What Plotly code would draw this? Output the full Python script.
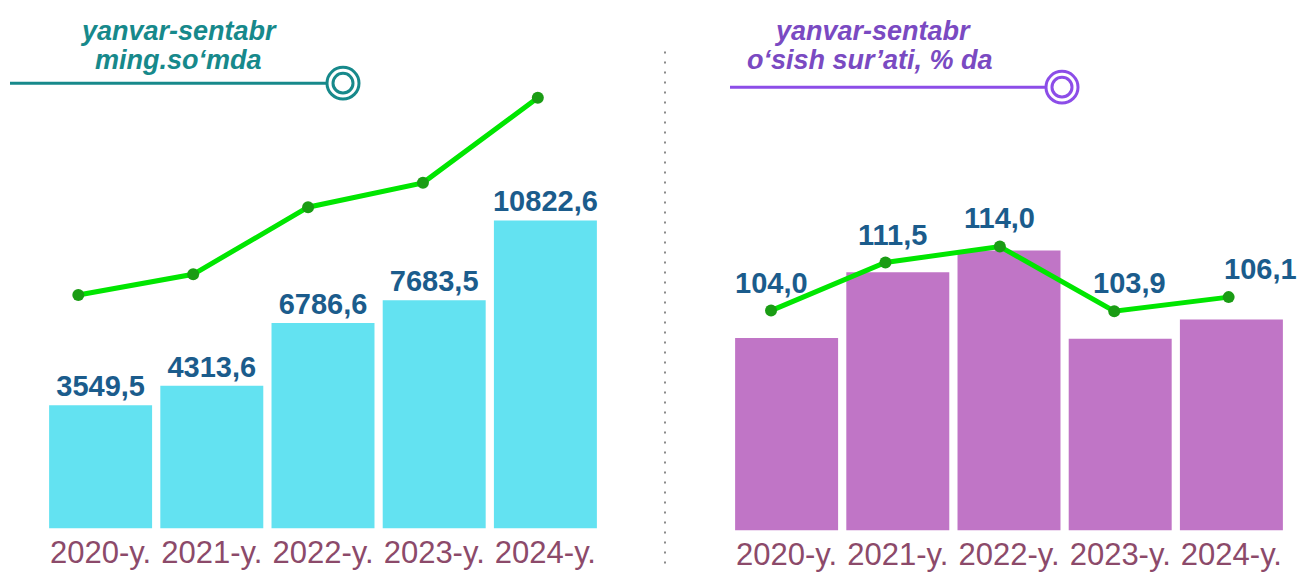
import plotly.graph_objects as go

# ---------------- data ----------------
years = ["2020-y.", "2021-y.", "2022-y.", "2023-y.", "2024-y."]
volume = [3549.5, 4313.6, 6786.6, 7683.5, 10822.6]      # ming so'm
growth = [104.0, 111.5, 114.0, 103.9, 106.1]            # % da


def fmt(v):
    return f"{v:.1f}".replace(".", ",")


volume_text = [fmt(v) for v in volume]
growth_text = [fmt(v) for v in growth]

# ---------------- style ----------------
OFF = 8                      # page body margin of the browser
W, H = 1306 - OFF, 572 - OFF
CYAN = "#63e2f1"
PURPLE_BAR = "#c075c6"
GREEN = "#00e600"
GREEN_DOT = "#1a9c14"
VAL_COLOR = "#1b5c8c"
TICK_COLOR = "#8c4a6a"
TEAL = "#17898b"
PURPLE_TXT = "#7a4ac2"
PURPLE_LINE = "#8c4de8"
FONT = "Liberation Sans, Arial, sans-serif"

LEFT_BASE = -1300
RIGHT_BASE = 82
growth_xshift = [0, 7, 0, 15, 32]


def px(x):
    return (x - OFF) / W


def py(y):
    return 1 - (y - OFF) / H


left_dom = [px(45), px(601)]
right_dom = [px(731), px(1287)]

fig = go.Figure()

# left bars
fig.add_trace(go.Bar(
    x=years, y=[v - LEFT_BASE for v in volume], base=LEFT_BASE,
    marker=dict(color=CYAN, line=dict(width=0)),
    text=volume_text, textposition="outside", constraintext="none",
    textfont=dict(family=FONT, size=29, color=VAL_COLOR, weight="bold"),
    cliponaxis=False, xaxis="x", yaxis="y", hoverinfo="skip",
))
# left line
fig.add_trace(go.Scatter(
    x=years, y=volume, mode="lines+markers",
    line=dict(color=GREEN, width=5),
    marker=dict(color=GREEN_DOT, size=12),
    xaxis="x3", yaxis="y3", cliponaxis=False, hoverinfo="skip",
))
# right bars
fig.add_trace(go.Bar(
    x=years, y=[v - RIGHT_BASE for v in growth], base=RIGHT_BASE,
    marker=dict(color=PURPLE_BAR, line=dict(width=0)),
    xaxis="x2", yaxis="y2", hoverinfo="skip",
))
# right line
fig.add_trace(go.Scatter(
    x=years, y=growth, mode="lines+markers",
    line=dict(color=GREEN, width=5),
    marker=dict(color=GREEN_DOT, size=12),
    xaxis="x4", yaxis="y4", cliponaxis=False, hoverinfo="skip",
))

# labels for right line
for yr, v, t, xs in zip(years, growth, growth_text, growth_xshift):
    fig.add_annotation(
        x=yr, y=v, xref="x4", yref="y4", text=t, showarrow=False,
        yshift=28, xshift=xs,
        font=dict(family=FONT, size=29, color=VAL_COLOR, weight="bold"),
    )

tickfont = dict(family=FONT, size=31, color=TICK_COLOR)
hidden = dict(visible=False, showgrid=False, zeroline=False)

fig.update_layout(
    width=W, height=H,
    margin=dict(l=0, r=0, t=0, b=0),
    paper_bgcolor="white", plot_bgcolor="white",
    showlegend=False, bargap=0.074,
    xaxis=dict(domain=left_dom, anchor="y", type="category", range=[-0.5, 4.5],
               showgrid=False, zeroline=False, showline=False, ticks="",
               tickfont=tickfont, ticklabelstandoff=3),
    yaxis=dict(domain=[py(534), py(23)], anchor="x", range=[LEFT_BASE, LEFT_BASE + 19900], **hidden),
    xaxis3=dict(overlaying="x", anchor="y", type="category", range=[-0.29, 4.55], **hidden),
    yaxis3=dict(overlaying="y", anchor="x", range=[-5049, 13580], **hidden),
    xaxis2=dict(domain=right_dom, anchor="y2", type="category", range=[-0.5, 4.5],
                showgrid=False, zeroline=False, showline=False, ticks="",
                tickfont=tickfont, ticklabelstandoff=3),
    yaxis2=dict(domain=[py(536), py(23)], anchor="x2", range=[RIGHT_BASE, RIGHT_BASE + 58.03], **hidden),
    xaxis4=dict(overlaying="x2", anchor="y2", type="category", range=[-0.35, 4.51], **hidden),
    yaxis4=dict(overlaying="y2", anchor="x2", range=[69.7, 148.9], **hidden),
)

# titles
title_font_l = dict(family=FONT, size=27, color=TEAL, weight="bold", style="italic")
title_font_r = dict(family=FONT, size=27, color=PURPLE_TXT, weight="bold", style="italic")
for text, x, y, f in [
    ("yanvar-sentabr", 178, 31, title_font_l),
    ("ming.so‘mda", 178, 61, title_font_l),
    ("yanvar-sentabr", 872, 31, title_font_r),
    ("o‘sish sur’ati, % da", 870, 61, title_font_r),
]:
    fig.add_annotation(x=px(x), y=py(y), xref="paper", yref="paper", text=text,
                       showarrow=False, font=f, xanchor="center", yanchor="middle")

# decorative underline + ring icons
for x0, x1, yy, cx, col in [(10, 326, 84, 343, TEAL), (730, 1045, 88, 1062, PURPLE_LINE)]:
    fig.add_shape(type="line", xref="paper", yref="paper",
                  x0=px(x0), x1=px(x1), y0=py(yy), y1=py(yy), line=dict(color=col, width=3))
    for r in (16, 10):
        fig.add_shape(type="circle", xref="paper", yref="paper",
                      x0=px(cx - r), x1=px(cx + r), y0=py(yy + r), y1=py(yy - r),
                      line=dict(color=col, width=3), fillcolor="rgba(0,0,0,0)")

# dotted divider
fig.add_shape(type="line", xref="paper", yref="paper",
              x0=px(665), x1=px(665), y0=py(52), y1=py(572),
              line=dict(color="#8a8a8a", width=2, dash="2px,8px"))

fig.write_html("out.html")
